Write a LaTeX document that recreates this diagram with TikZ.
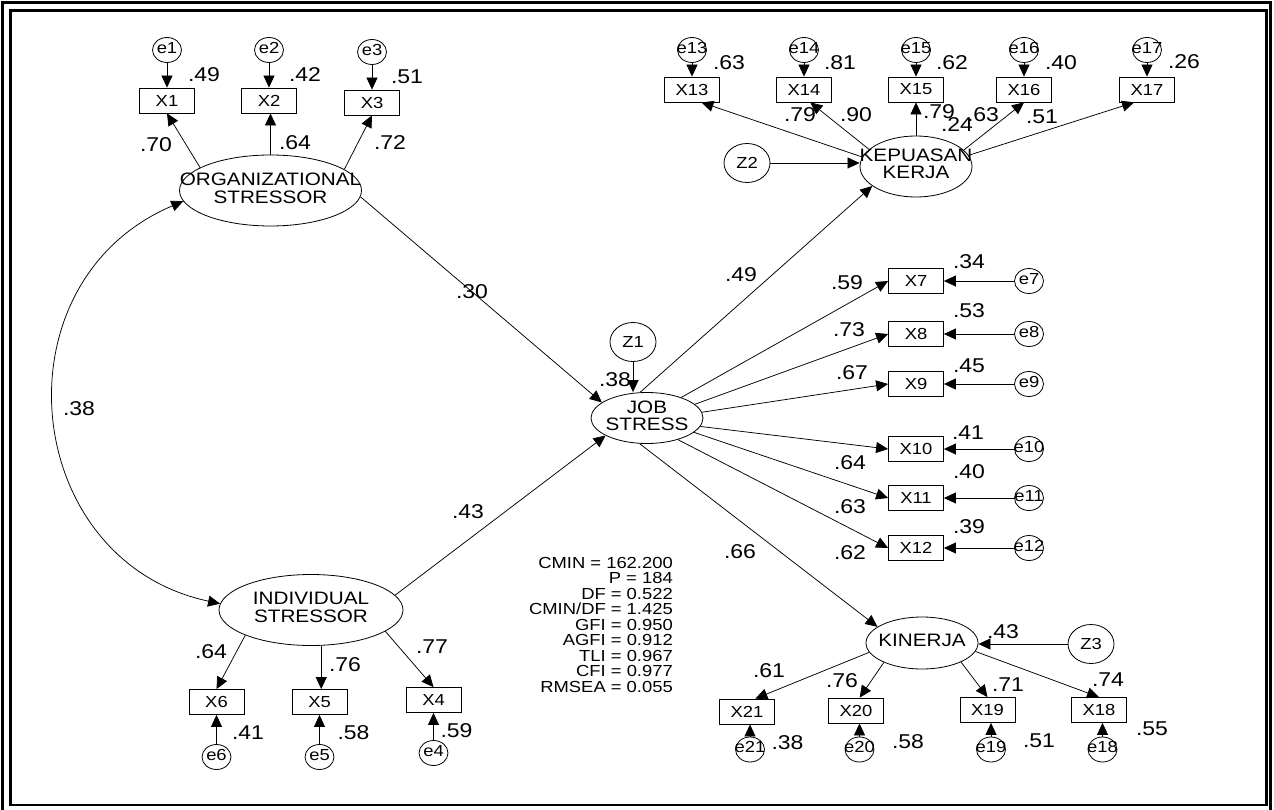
\documentclass[tikz,border=0pt]{standalone}
\usepackage{fontspec}
\setmainfont{Liberation Sans}[FakeStretch=1.15]
\usetikzlibrary{arrows.meta,shapes.geometric}
\newcommand\latf{\fontsize{18}{16.5}\selectfont}
\newcommand\boxf{\fontsize{16}{16}\selectfont}
\newcommand\lblf{\fontsize{20}{20}\selectfont}
\newcommand\statf{\fontsize{16}{15.5}\selectfont}
\newcommand\ctext[1]{\makebox[0pt]{\begin{tabular}{@{}c@{}}#1\end{tabular}}}
\begin{document}
\begin{tikzpicture}[x=1pt,y=-1pt,
  lat/.style={ellipse,draw,line width=0.8pt,inner sep=0pt,font=\latf},
  obs/.style={rectangle,draw,line width=0.8pt,minimum width=55pt,minimum height=25pt,inner sep=0pt,font=\boxf},
  err/.style={ellipse,draw,line width=0.8pt,minimum width=29pt,minimum height=25pt,inner sep=0pt,font=\boxf},
  dist/.style={ellipse,draw,line width=0.8pt,minimum width=46pt,minimum height=39pt,inner sep=0pt,font=\boxf},
  lbl/.style={inner sep=0pt,font=\lblf},
  pth/.style={line width=0.75pt,-{Triangle[length=12pt,width=11pt]}},
  cov/.style={line width=0.75pt,{Triangle[length=12pt,width=11pt]}-{Triangle[length=12pt,width=11pt]}}]
\useasboundingbox (0,0) rectangle (1274,810);
\clip (0,0) rectangle (1274,810);
\draw[line width=2.6pt] (2.3,2.3) rectangle (1270.3,830);
\draw[line width=2.6pt] (10.7,10.7) rectangle (1266.3,805);

% latent variables
\node[lat,minimum width=182pt,minimum height=71pt] (os) at (270.5,190.5) {\ctext{ORGANIZATIONAL\\STRESSOR}};
\node[lat,minimum width=184pt,minimum height=71pt] (is) at (311,610) {\ctext{INDIVIDUAL\\STRESSOR}};
\node[lat,minimum width=112pt,minimum height=51pt] (js) at (647,418) {\ctext{JOB\\STRESS}};
\node[lat,minimum width=112pt,minimum height=61pt] (kk) at (916,166.5) {\ctext{KEPUASAN\\KERJA}};
\node[lat,minimum width=112pt,minimum height=52pt] (kin) at (922,643) {\ctext{KINERJA}};

% disturbances
\node[dist] (z1) at (633,342) {Z1};
\node[dist] (z2) at (747,163) {Z2};
\node[dist] (z3) at (1091,644) {Z3};

% observed
\node[obs] (x1) at (167,100.5) {X1};
\node[obs] (x2) at (269,100.5) {X2};
\node[obs] (x3) at (372,102.5) {X3};
\node[obs] (x13) at (692,89.5) {X13};
\node[obs] (x14) at (804,89.5) {X14};
\node[obs] (x15) at (916,89.5) {X15};
\node[obs] (x16) at (1024,89.5) {X16};
\node[obs] (x17) at (1147,89.5) {X17};
\node[obs] (x7) at (916,281) {X7};
\node[obs] (x8) at (916,334) {X8};
\node[obs] (x9) at (916,384) {X9};
\node[obs] (x10) at (916,449) {X10};
\node[obs] (x11) at (916,498) {X11};
\node[obs] (x12) at (916,548) {X12};
\node[obs] (x6) at (216.5,702) {X6};
\node[obs] (x5) at (319.5,702) {X5};
\node[obs] (x4) at (433.5,700) {X4};
\node[obs] (x21) at (747,711.5) {X21};
\node[obs] (x20) at (856,710.5) {X20};
\node[obs] (x19) at (987.5,710) {X19};
\node[obs] (x18) at (1099,710) {X18};

% errors
\node[err] (e1) at (167,50) {\ctext{e1}};
\node[err] (e2) at (269,50) {\ctext{e2}};
\node[err] (e3) at (372,52) {\ctext{e3}};
\node[err] (e13) at (692,50) {\ctext{e13}};
\node[err] (e14) at (804,50) {\ctext{e14}};
\node[err] (e15) at (916,50) {\ctext{e15}};
\node[err] (e16) at (1024,50) {\ctext{e16}};
\node[err] (e17) at (1147,50) {\ctext{e17}};
\node[err] (e7) at (1029,281) {\ctext{e7}};
\node[err] (e8) at (1029,334) {\ctext{e8}};
\node[err] (e9) at (1029,384) {\ctext{e9}};
\node[err] (e10) at (1029,449) {\ctext{e10}};
\node[err] (e11) at (1029,498) {\ctext{e11}};
\node[err] (e12) at (1029,548) {\ctext{e12}};
\node[err] (e6) at (216.5,757) {\ctext{e6}};
\node[err] (e5) at (319.5,757) {\ctext{e5}};
\node[err] (e4) at (433.5,753) {\ctext{e4}};
\node[err] (e21) at (750,749.5) {\ctext{e21}};
\node[err] (e20) at (859.5,749.5) {\ctext{e20}};
\node[err] (e19) at (991,749.5) {\ctext{e19}};
\node[err] (e18) at (1102.5,749.5) {\ctext{e18}};

% structural paths
\draw[cov] (os.187) .. controls (-7,282) and (20,561) .. (is.176);
\draw[pth] (os.356) -- (js.161);
\draw[pth] (is.10) -- (js.203);
\draw[pth] (js.105) -- (kk.204);
\draw[pth] (js.254) -- (kin.160);
\draw[pth] (z1) -- (z1 |- js.north);
\draw[pth] (z2) -- (z2 -| kk.west);
\draw[pth] (z3) -- (z3 -| kin.east);

% loadings
\draw[pth] (os.162) -- (x1.south);
\draw[pth] (os.north) -- (os.north |- x2.south);
\draw[pth] (os.16) -- (x3.south);
\draw[pth] (is.201) -- (x6.north);
\draw[pth] (is.286) -- (is.286 |- x5.north);
\draw[pth] (is.344) -- (x4.north);
\draw[pth] (js.31) -- (x7.west);
\draw[pth] (js.16) -- (x8.west);
\draw[pth] (js.6) -- (x9.west);
\draw[pth] (js.351) -- (x10.west);
\draw[pth] (js.343) -- (x11.west);
\draw[pth] (js.325) -- (x12.west);
\draw[pth] (kk.170) -- (x13.306);
\draw[pth] (kk.160) -- (x14.296);
\draw[pth] (kk.north) -- (kk.north |- x15.south);
\draw[pth] (kk.19) -- (x16.south);
\draw[pth] (kk.12) -- (x17.225);
\draw[pth] (kin.190) -- (x21.57);
\draw[pth] (kin.207) -- (x20.74);
\draw[pth] (kin.334) -- (x19.north);
\draw[pth] (kin.351) -- (x18.north);

% error arrows
\draw[pth] (e1) -- (x1);
\draw[pth] (e2) -- (x2);
\draw[pth] (e3) -- (x3);
\draw[pth] (e13) -- (x13);
\draw[pth] (e14) -- (x14);
\draw[pth] (e15) -- (x15);
\draw[pth] (e16) -- (x16);
\draw[pth] (e17) -- (x17);
\draw[pth] (e7) -- (x7);
\draw[pth] (e8) -- (x8);
\draw[pth] (e9) -- (x9);
\draw[pth] (e10) -- (x10);
\draw[pth] (e11) -- (x11);
\draw[pth] (e12) -- (x12);
\draw[pth] (e6) -- (x6);
\draw[pth] (e5) -- (x5);
\draw[pth] (e4) -- (x4);
\draw[pth] (e21.north) -- (e21.north |- x21.south);
\draw[pth] (e20.north) -- (e20.north |- x20.south);
\draw[pth] (e19.north) -- (e19.north |- x19.south);
\draw[pth] (e18.north) -- (e18.north |- x18.south);

% labels
\node[lbl] (l1) at (204,75) {.49};
\node[lbl] (l2) at (305,75) {.42};
\node[lbl] (l3) at (407,77) {.51};
\node[lbl] (l4) at (156,145) {.70};
\node[lbl] (l5) at (295,143) {.64};
\node[lbl] (l6) at (390,143) {.72};
\node[lbl] (l7) at (79,409) {.38};
\node[lbl] (l8) at (472,292) {.30};
\node[lbl] (l9) at (468,512) {.43};
\node[lbl] (l10) at (615,380) {.38};
\node[lbl] (l11) at (741,275) {.49};
\node[lbl] (l12) at (847,283) {.59};
\node[lbl] (l13) at (849,330) {.73};
\node[lbl] (l14) at (852,373) {.67};
\node[lbl] (l15) at (850,463) {.64};
\node[lbl] (l16) at (850,507) {.63};
\node[lbl] (l17) at (850,553) {.62};
\node[lbl] (l18) at (740,552) {.66};
\node[lbl] (l19) at (969,262) {.34};
\node[lbl] (l20) at (969,311) {.53};
\node[lbl] (l21) at (969,366) {.45};
\node[lbl] (l22) at (968,433) {.41};
\node[lbl] (l23) at (969,472) {.40};
\node[lbl] (l24) at (969,527) {.39};
\node[lbl] (l25) at (729,63) {.63};
\node[lbl] (l26) at (840,63) {.81};
\node[lbl] (l27) at (952,63) {.62};
\node[lbl] (l28) at (1061,63) {.40};
\node[lbl] (l29) at (1184,62) {.26};
\node[lbl] (l30) at (800,115) {.79};
\node[lbl] (l31) at (856,115) {.90};
\node[lbl] (l32) at (939,112) {.79};
\node[lbl] (l33) at (957,125) {.24};
\node[lbl] (l34) at (983,115) {.63};
\node[lbl] (l35) at (1042,117) {.51};
\node[lbl] (l36) at (211,652) {.64};
\node[lbl] (l37) at (345,665) {.76};
\node[lbl] (l38) at (432,647) {.77};
\node[lbl] (l39) at (248,733) {.41};
\node[lbl] (l40) at (353.5,733) {.58};
\node[lbl] (l41) at (456.5,731) {.59};
\node[lbl] (l42) at (769,671) {.61};
\node[lbl] (l43) at (842,681) {.76};
\node[lbl] (l44) at (1008,685) {.71};
\node[lbl] (l45) at (1108,680) {.74};
\node[lbl] (l46) at (787.5,743) {.38};
\node[lbl] (l47) at (908,741.5) {.58};
\node[lbl] (l48) at (1039,741) {.51};
\node[lbl] (l49) at (1152,728.5) {.55};
\node[lbl] (l50) at (1003,632) {.43};

% fit statistics
\node[inner sep=0pt,anchor=north east,align=right,font=\statf] (stats) at (673,557)
  {CMIN = 162.200\\P = 184\\DF = 0.522\\CMIN/DF = 1.425\\GFI = 0.950\\AGFI = 0.912\\TLI = 0.967\\CFI = 0.977\\RMSEA = 0.055};
\end{tikzpicture}
\end{document}
